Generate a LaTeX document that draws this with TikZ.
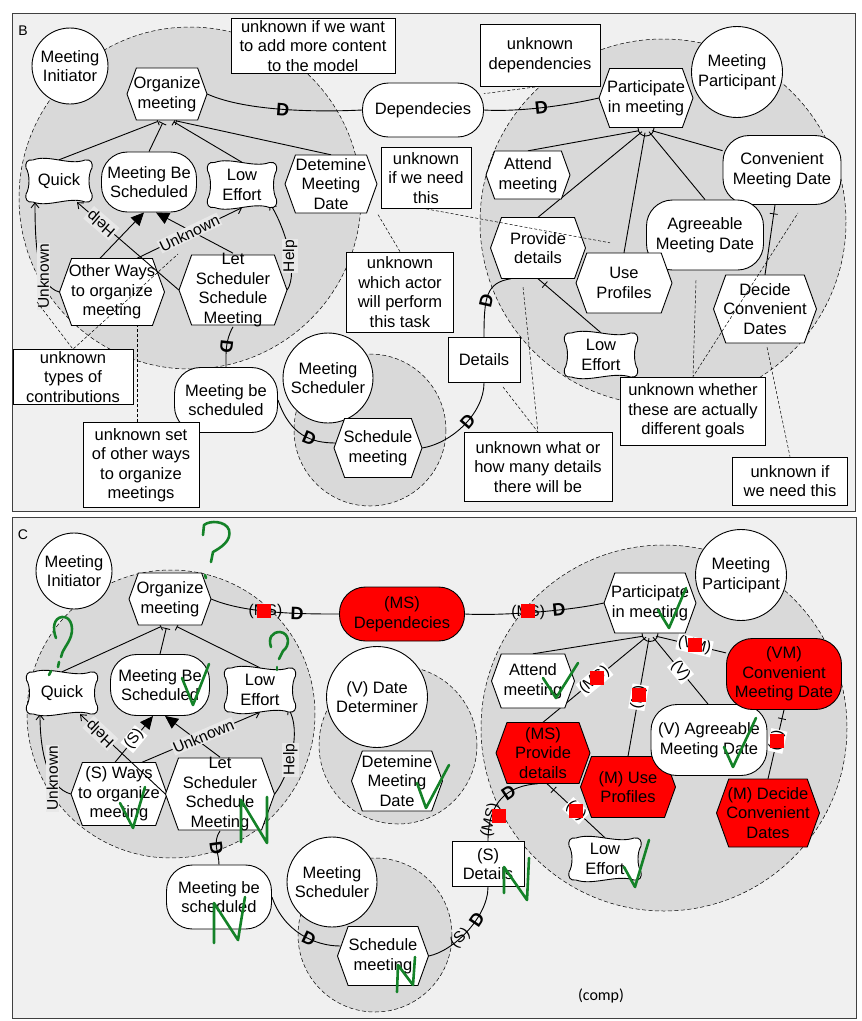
\documentclass[tikz,border=0pt]{standalone}
\usepackage{fontspec}
\setmainfont{Liberation Sans}
\newfontfamily\calibfont{Carlito}
\usetikzlibrary{arrows.meta,decorations.markings,calc}
\pgfdeclarelayer{bg}\pgfdeclarelayer{links}
\pgfsetlayers{bg,links,main}
\definecolor{panelbg}{HTML}{F0F0F0}
\definecolor{bndfill}{HTML}{D9D9D9}
\definecolor{lblbg}{HTML}{E8E8E8}
\definecolor{ink}{RGB}{20,130,40}
\definecolor{alarm}{HTML}{FF0000}
\newcommand\lblfont{\fontsize{15.5}{16}\selectfont}
\tikzset{
  txt/.style={font=\fontsize{16.5}{19.5}\selectfont, align=center, inner sep=0pt},
  actor/.style={txt, circle, draw, fill=white, line width=.9pt},
  goal/.style={txt, draw, fill=white, rounded corners=26pt, line width=.9pt},
  resource/.style={txt, draw, fill=white, line width=.9pt},
  note/.style={txt, draw, fill=white, line width=.7pt},
  hexline/.style={draw, line width=.9pt, line join=miter},
  boundary/.style={draw, fill=bndfill, line width=.5pt, dash pattern=on 4pt off 2.5pt},
  panel/.style={draw=black!75, fill=panelbg, line width=1pt},
  link/.style={line width=.9pt},
  dep/.style={link},
  dmark/.style={font=\bfseries\fontsize{18}{18}\selectfont, inner sep=0pt, sloped, allow upside down},
  contrib/.style={link, -{Straight Barb[length=5pt,width=8pt]}},
  meansend/.style={link, -{Triangle[length=13pt,width=12pt]}},
  decomp/.style={link, shorten >=3pt, -{Bar[width=8pt]}},
  ticked/.style={link, postaction={decorate}, decoration={markings, mark=at position 9pt with {\draw[line width=.8pt] (0,-4pt) -- (0,4pt);}}},
  lbl/.style={font=\lblfont, fill=lblbg, inner sep=1pt},
  wlbl/.style={font=\lblfont, fill=white, inner sep=1pt, sloped},
  plbl/.style={font=\lblfont, inner sep=0pt},
  redsq/.style={fill=alarm, minimum size=14pt, inner sep=0pt},
  annot/.style={line width=.5pt, dash pattern=on 3pt off 2pt},
  pen/.style={draw=ink, line width=2.6pt, line cap=round, line join=round},
}
% hexagon task: [fill]{name}{x}{y}{w}{h}{text}
\newcommand\hexnode[7][white]{%
  \path[hexline, fill=#1] ({#3-#5/2},{#4}) -- ({#3-#5/2+0.18*#6},{#4-#6/2}) -- ({#3+#5/2-0.18*#6},{#4-#6/2}) -- ({#3+#5/2},{#4}) -- ({#3+#5/2-0.18*#6},{#4+#6/2}) -- ({#3-#5/2+0.18*#6},{#4+#6/2}) -- cycle;
  \node[txt, minimum width=#5pt, minimum height=#6pt] (#2) at (#3,#4) {#7};}
% softgoal cloud: {name}{x}{y}{w}{h}{text}
\newcommand\softnode[6]{%
  \pgfmathsetmacro\sa{#4/2}\pgfmathsetmacro\sb{#5/2}%
  \path[hexline, fill=white, shift={(#2,#3)}]
    ({-\sa+7},{-\sb}) .. controls ({-\sa/3},{-\sb-6}) and ({\sa/3},{-\sb+6}) .. ({\sa-7},{-\sb})
    .. controls ({\sa-1},{-\sb-1}) and ({\sa+1},{-\sb+3}) .. ({\sa},{-\sb+8})
    .. controls ({\sa-4},{-\sb/3}) and ({\sa-4},{\sb/3}) .. ({\sa},{\sb-8})
    .. controls ({\sa+1},{\sb-3}) and ({\sa-1},{\sb+1}) .. ({\sa-7},{\sb})
    .. controls ({\sa/3},{\sb-6}) and ({-\sa/3},{\sb+6}) .. ({-\sa+7},{\sb})
    .. controls ({-\sa+1},{\sb+1}) and ({-\sa-1},{\sb-3}) .. ({-\sa},{\sb-8})
    .. controls ({-\sa+4},{\sb/3}) and ({-\sa+4},{-\sb/3}) .. ({-\sa},{-\sb+8})
    .. controls ({-\sa-1},{-\sb+3}) and ({-\sa+1},{-\sb-1}) .. ({-\sa+7},{-\sb}) -- cycle;
  \node[txt, minimum width=#4pt, minimum height=#5pt] (#1) at (#2,#3) {#6};}

\begin{document}
\begin{tikzpicture}[x=1pt,y=-1pt]
\useasboundingbox (0,0) rectangle (862,1021);

% panels and actor boundaries
\begin{pgfonlayer}{bg}
  \fill[white] (0,0) rectangle (862,1021);
  \path[panel] (12,13) rectangle (855,511);
  \path[panel] (12,517) rectangle (856,1018);
  \path[boundary] (190,198) circle[radius=171];
  \path[boundary] (663,222) circle[radius=183];
  \path[boundary] (370,430) circle[radius=76];
  \path[boundary] (171,714) circle[radius=144];
  \path[boundary] (664,728) circle[radius=183];
  \path[boundary] (398,745) circle[radius=79];
  \path[boundary] (375,935) circle[radius=77];
\end{pgfonlayer}

\node[font=\fontsize{14}{14}\selectfont] (labB) at (23,31) {B};
\node[font=\fontsize{14}{14}\selectfont] (labC) at (23,535) {C};

% ---------------- panel B ----------------
\node[actor, minimum size=76pt] (initB) at (70,66) {Meeting\\Initiator};
\node[actor, minimum size=91pt] (partB) at (737,72) {Meeting\\Participant};
\node[actor, minimum size=90pt] (schB) at (328,378) {Meeting\\Scheduler};

\hexnode{orgB}{167}{94}{80}{52}{Organize\\meeting}
\node[goal, minimum width=121pt, minimum height=54pt] (depB) at (423,110) {Dependecies};
\hexnode{pimB}{646}{98}{94}{59}{Participate\\in meeting}
\softnode{quickB}{59}{181}{66}{42}{Quick}
\node[goal, minimum width=95pt, minimum height=60pt] (mbsB) at (149,182) {Meeting Be\\Scheduled};
\softnode{leB}{242}{185}{69}{45}{Low\\Effort}
\hexnode{dmdB}{331}{184}{92}{58}{Detemine\\Meeting\\Date}
\hexnode{attB}{528}{175}{84}{48}{Attend\\meeting}
\node[goal, minimum width=118pt, minimum height=69pt] (cmdB) at (782,170) {Convenient\\Meeting Date};
\node[goal, minimum width=117pt, minimum height=70pt] (amdB) at (705,235) {Agreeable\\Meeting Date};
\hexnode{pdB}{538}{248}{95}{61}{Provide\\details}
\hexnode{upB}{624}{283}{96}{60}{Use\\Profiles}
\hexnode{dcdB}{765}{309}{103}{68}{Decide\\Convenient\\Dates}
\softnode{le2B}{601}{355}{73}{44}{Low\\Effort}
\node[resource, minimum width=72pt, minimum height=45pt] (detB) at (484,360) {Details};
\hexnode{owB}{112}{292}{105}{67}{Other Ways\\to organize\\meeting}
\hexnode{lssB}{233}{290}{108}{70}{Let\\Scheduler\\Schedule\\Meeting}
\node[goal, minimum width=103pt, minimum height=65pt] (mbs2B) at (226,400) {Meeting be\\scheduled};
\hexnode{smB}{378}{448}{88}{59}{Schedule\\meeting}

\begin{pgfonlayer}{links}
  \draw[dep] (orgB.east) .. controls +(40,18) and +(-40,2) .. (depB.west) node[pos=.49,dmark]{D};
  \draw[dep] (depB.east) .. controls +(35,2) and +(-35,8) .. (pimB.west) node[pos=.5,dmark]{D};
  \draw[dep] (lssB.south) .. controls +(-8,14) and +(0,-14) .. (mbs2B.north) node[pos=.5,dmark]{D};
  \draw[dep] (mbs2B.east) .. controls +(12,35) and +(-25,0) .. ([xshift=2pt,yshift=5pt]smB.west) node[pos=.62,dmark]{D};
  \draw[dep] (smB.east) .. controls +(30,-5) and +(0,30) .. (detB.south) node[pos=.55,dmark]{D};
  \draw[dep] (detB.north) .. controls +(0,-40) and +(-25,4) .. ([xshift=-27pt]pdB.south) node[pos=.4,dmark]{D};
  % refinements of Organize meeting
  \draw[decomp] (quickB.north) -- ([xshift=-6pt]orgB.south);
  \draw[decomp] (mbsB.north) -- ([xshift=-3pt]orgB.south);
  \draw[decomp] (leB.north) -- ([xshift=4pt]orgB.south);
  \draw[decomp] (dmdB.north) -- ([xshift=6pt]orgB.south);
  % refinements of Participate in meeting
  \draw[link] (attB.north) -- ([xshift=-7pt,yshift=-3pt]pimB.south);
  \draw[link] (pdB.north) -- ([xshift=-4pt,yshift=-4pt]pimB.south);
  \draw[link] (upB.north) -- ([xshift=-1pt,yshift=-5pt]pimB.south);
  \draw[link] (amdB.north) -- ([xshift=3pt,yshift=-4pt]pimB.south);
  \draw[link] (cmdB.162) -- ([xshift=6pt,yshift=-3pt]pimB.south);
  \draw[link] ([xshift=-8pt]pimB.south) .. controls +(0,11) and +(0,11) .. ([xshift=8pt]pimB.south);
  % contributions
  \draw[contrib] (owB.west) .. controls +(-22,-6) and +(0,45) .. ([xshift=-24pt]quickB.south) node[pos=.33,lbl,rotate=90]{Unknown};
  \draw[meansend] ([xshift=-12pt]owB.north) -- ([xshift=-5pt]mbsB.south);
  \draw[meansend] (lssB.north) -- ([xshift=7pt]mbsB.south);
  \draw[contrib] ([xshift=25pt]owB.north) -- (leB.south) node[pos=.5,lbl,sloped]{Unknown};
  \draw[contrib] (lssB.east) .. controls +(12,-18) and +(14,22) .. ([xshift=28pt,yshift=4pt]leB.south) node[pos=.42,lbl,rotate=90]{Help};
  \draw[ticked] (pdB.south) -- (le2B.north);
  \draw[ticked] ([xshift=-7pt]cmdB.south) -- (dcdB.north);
\end{pgfonlayer}
\draw[contrib] (lssB.west) -- ([xshift=18pt]quickB.south) node[pos=.76,lbl,sloped,allow upside down]{Help};

% notes of panel B
\node[note, minimum width=164pt, minimum height=55pt] (n1) at (313,46) {unknown if we want\\to add more content\\to the model};
\node[note, minimum width=120pt, minimum height=62pt] (n2) at (540,55) {unknown\\dependencies};
\node[note, minimum width=90pt, minimum height=61pt] (n3) at (426,178) {unknown\\if we need\\this};
\node[note, minimum width=145pt, minimum height=68pt] (n4) at (693,411) {unknown whether\\these are actually\\different goals};
\node[note, minimum width=148pt, minimum height=69pt] (n5) at (538,467) {unknown what or\\how many details\\there will be};
\node[note, minimum width=115pt, minimum height=48pt] (n6) at (790,481) {unknown if\\we need this};
\node[note, minimum width=107pt, minimum height=80pt] (n7) at (400,292) {unknown\\which actor\\will perform\\this task};
\node[note, minimum width=120pt, minimum height=55pt] (n8) at (73,377) {unknown\\types of\\contributions};
\node[note, minimum width=116pt, minimum height=85pt] (n9) at (141,465) {unknown set\\of other ways\\to organize\\meetings};

\coordinate (u1) at (37,302);
\coordinate (u2) at (178,254);
\draw[annot] (n2.south) -- (depB.15);
\draw[annot] (n7.north) -- (dmdB.south east);
\draw[annot] (n3.south) -- ([xshift=-14pt,yshift=10pt]upB.north);
\draw[annot] (u1) -- (n8.north) -- (u2);
\draw[annot] ([xshift=-4pt]n9.north) -- ([xshift=25pt]owB.south);
\draw[annot] ([xshift=19pt,yshift=-4pt]detB.south) -- (n5.north) -- ([xshift=-15pt,yshift=-8pt]pdB.south);
\draw[annot] ([xshift=-9pt,yshift=-10pt]amdB.south) -- (n4.north) -- ([xshift=16pt,yshift=-8pt]cmdB.south);
\draw[annot] ([xshift=2pt,yshift=-4pt]dcdB.south) -- (n6.north);

% ---------------- panel C ----------------
\node[actor, minimum size=76pt] (initC) at (74,571) {Meeting\\Initiator};
\node[actor, minimum size=91pt] (partC) at (741,575) {Meeting\\Participant};
\node[actor, minimum size=101pt] (ddC) at (377,697) {(V) Date\\Determiner};
\node[actor, minimum size=90pt] (schC) at (332,882) {Meeting\\Scheduler};

\hexnode{orgC}{170}{599}{82}{52}{Organize\\meeting}
\node[goal, fill=alarm, minimum width=125pt, minimum height=54pt] (depC) at (402,614) {(MS)\\Dependecies};
\hexnode{pimC}{650}{603}{92}{60}{Participate\\in meeting}
\softnode{quickC}{62}{693}{71}{42}{Quick}
\node[goal, minimum width=99pt, minimum height=61pt] (mbsC) at (160,685) {Meeting Be\\Scheduled};
\softnode{leC}{260}{690}{71}{44}{Low\\Effort}
\hexnode{owC}{119}{794}{96}{63}{(S) Ways\\to organize\\meeting}
\hexnode{lssC}{220}{794}{109}{72}{Let\\Scheduler\\Schedule\\Meeting}
\hexnode{dmdC}{397}{781}{91}{60}{Detemine\\Meeting\\Date}
\node[goal, minimum width=105pt, minimum height=64pt] (mbs2C) at (219,897) {Meeting be\\scheduled};
\hexnode{smC}{383}{956}{91}{59}{Schedule\\meeting}
\hexnode{attC}{533}{681}{83}{54}{Attend\\meeting}
\hexnode[alarm]{pdC}{543}{753}{94}{61}{(MS)\\Provide\\details}
\hexnode[alarm]{upC}{628}{787}{95}{61}{(M) Use\\Profiles}
\node[goal, minimum width=116pt, minimum height=71pt] (amdC) at (709,740) {(V) Agreeable\\Meeting Date};
\node[goal, fill=alarm, minimum width=115pt, minimum height=71pt] (cmdC) at (784,674) {(VM)\\Convenient\\Meeting Date};
\hexnode[alarm]{dcdC}{768}{813}{103}{68}{(M) Decide\\Convenient\\Dates}
\softnode{le2C}{605}{859}{72}{42}{Low\\Effort}
\node[resource, minimum width=72pt, minimum height=45pt] (detC) at (488,864) {(S)\\Details};
\node[font=\calibfont\fontsize{16}{16}\selectfont] (comp) at (601,996) {(comp)};

\begin{pgfonlayer}{links}
  \draw[dep] (orgC.east) .. controls +(35,15) and +(-35,0) .. (depC.west)
    node[pos=.43,plbl]{(MS)} node[pos=.42,redsq]{} node[pos=.66,dmark]{D};
  \draw[dep] (depC.east) .. controls +(35,2) and +(-35,8) .. (pimC.west)
    node[pos=.46,plbl]{(MS)} node[pos=.46,redsq,yshift=2pt]{} node[pos=.66,dmark]{D};
  \draw[dep] (lssC.south) .. controls +(-8,12) and +(0,-12) .. (mbs2C.north) node[pos=.5,dmark]{D};
  \draw[dep] (mbs2C.east) .. controls +(12,35) and +(-25,0) .. ([xshift=3pt,yshift=10pt]smC.west) node[pos=.6,dmark]{D};
  \draw[dep] (smC.east) .. controls +(25,-5) and +(0,30) .. (detC.south)
    node[pos=.4,plbl,sloped]{(S)} node[pos=.64,dmark]{D};
  \draw[dep] (detC.north) .. controls +(0,-40) and +(-30,2) .. ([xshift=-5pt]pdC.south)
    node[pos=.2,plbl,sloped]{(MS)} node[pos=.24,redsq,xshift=8pt]{} node[pos=.62,dmark]{D};
  % refinements of Organize meeting
  \draw[decomp] (quickC.north) -- ([xshift=-6pt]orgC.south);
  \draw[decomp] (mbsC.north) -- ([xshift=-3pt]orgC.south);
  \draw[decomp] (leC.north) -- ([xshift=4pt]orgC.south);
  % refinements of Participate in meeting
  \draw[link] (attC.north) -- ([xshift=-7pt,yshift=-3pt]pimC.south);
  \draw[link] (pdC.north) -- ([xshift=-4pt,yshift=-4pt]pimC.south)
    node[pos=.5,wlbl]{(MS)} node[pos=.52,redsq]{};
  \draw[link] (upC.north) -- ([xshift=-1pt,yshift=-5pt]pimC.south)
    node[pos=.5,wlbl]{(M)} node[pos=.52,redsq]{};
  \draw[link] ([xshift=-1pt]amdC.north) -- ([xshift=3pt,yshift=-4pt]pimC.south)
    node[pos=.5,wlbl]{(V)};
  \draw[link] (cmdC.160) -- ([xshift=6pt,yshift=-3pt]pimC.south)
    node[pos=.45,wlbl]{(VM)} node[pos=.45,redsq]{};
  \draw[link] ([xshift=-8pt]pimC.south) .. controls +(0,11) and +(0,11) .. ([xshift=8pt]pimC.south);
  % contributions
  \draw[contrib] (owC.west) .. controls +(-22,-6) and +(0,40) .. ([xshift=-22pt]quickC.south) node[pos=.35,lbl,rotate=90]{Unknown};
  \draw[meansend] ([xshift=-4pt]owC.north) -- ([xshift=-7pt]mbsC.south) node[pos=.5,wlbl]{(S)};
  \draw[meansend] (lssC.north) -- ([xshift=5pt]mbsC.south);
  \draw[contrib] ([xshift=23pt]owC.north) -- (leC.south) node[pos=.52,lbl,sloped]{Unknown};
  \draw[contrib] (lssC.east) .. controls +(15,-20) and +(14,22) .. ([xshift=28pt,yshift=4pt]leC.south) node[pos=.42,lbl,rotate=90]{Help};
  \draw[ticked] (cmdC.south) -- (dcdC.north) node[pos=.45,wlbl]{(S)} node[pos=.45,redsq]{};
  \draw[ticked] ([xshift=4pt]pdC.south) -- (le2C.north) node[pos=.5,wlbl]{(S)} node[pos=.5,redsq]{};
\end{pgfonlayer}
\draw[contrib] (lssC.west) -- ([xshift=18pt]quickC.south) node[pos=.76,lbl,sloped,allow upside down]{Help};

% handwritten review marks
\begin{scope}[pen]
  \draw (203,535) -- (204,525) .. controls (210,520) and (226,521) .. (229,530) .. controls (232,541) and (220,548) .. (213,552) -- (211,562);
  \draw (205,575) -- (206,578);
  \draw (56,638) .. controls (52,628) and (54,618) .. (62,617) .. controls (70,616) and (74,626) .. (71,636) .. controls (68,645) and (62,650) .. (61,657);
  \draw (59,662) -- (58,667);
  \draw (51,671) -- (49,675);
  \draw (271,647) .. controls (268,638) and (272,632) .. (280,632) .. controls (290,633) and (290,646) .. (283,651) -- (279,659);
  \draw (277,667) -- (277,670);
  \draw (182,678) -- (193,705) -- (209,664);
  \draw (658,610) -- (669,628) -- (686,588);
  \draw (543,678) -- (556,698) -- (578,663);
  \draw (724,747) -- (733,767) -- (756,718);
  \draw (120,803) -- (133,828) -- (145,787);
  \draw (417,783) -- (426,808) -- (449,765);
  \draw (624,867) -- (635,887) -- (649,840);
  \draw (241,842) -- (241,800) -- (267,843) -- (267,797);
  \draw (214,943) -- (214,903) -- (238,940) -- (245,897);
  \draw (397,992) -- (398,965) -- (413,985) -- (415,957);
  \draw (504,893) -- (504,867) -- (527,900) -- (529,858);
\end{scope}
\end{tikzpicture}
\end{document}
